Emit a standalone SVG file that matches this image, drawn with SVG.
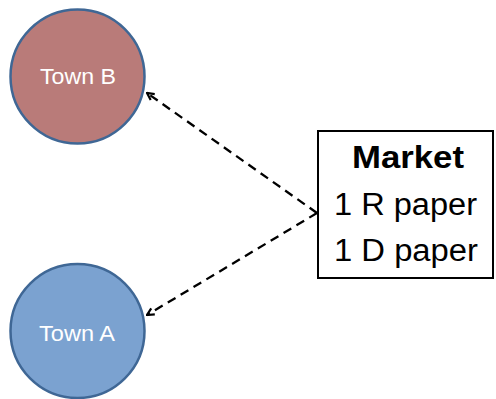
<svg xmlns="http://www.w3.org/2000/svg" width="496" height="399" viewBox="0 0 496 399">
<style>
.town{stroke-width:2.5}
.tlabel{font-family:"Liberation Sans",Arial,sans-serif;font-size:22px;fill:#ffffff;text-anchor:middle}
.mlabel{font-family:"Liberation Sans",Arial,sans-serif;font-size:31px;fill:#000000;text-anchor:middle}
.conn{stroke:#000;stroke-width:2.3;stroke-dasharray:9,6;fill:none}
</style>
<defs>
<marker id="arr" viewBox="0 0 10 10" refX="9" refY="5" markerWidth="10" markerHeight="10" orient="auto" markerUnits="userSpaceOnUse">
<path d="M2,1.5 L9,5 L2,8.5" fill="none" stroke="#000" stroke-width="2.2" stroke-linejoin="miter"/>
</marker>
</defs>
<rect width="496" height="399" fill="#ffffff"/>
<g id="townB">
<circle class="town" cx="77.5" cy="76.5" r="67" fill="#B97B79" stroke="#3F6795"/>
<text class="tlabel" x="78" y="83.5" textLength="76" lengthAdjust="spacingAndGlyphs">Town B</text>
</g>
<g id="townA">
<circle class="town" cx="77.5" cy="331" r="67" fill="#7BA2D0" stroke="#3F6795"/>
<text class="tlabel" x="77" y="341" textLength="76" lengthAdjust="spacingAndGlyphs">Town A</text>
</g>
<g id="market">
<rect x="318" y="131" width="175" height="147" fill="#ffffff" stroke="#000" stroke-width="2"/>
<text class="mlabel" x="408" y="168" font-weight="bold" textLength="112" lengthAdjust="spacingAndGlyphs">Market</text>
<text class="mlabel" x="405.5" y="215" textLength="143" lengthAdjust="spacingAndGlyphs">1 R paper</text>
<text class="mlabel" x="406" y="261" textLength="144" lengthAdjust="spacingAndGlyphs">1 D paper</text>
</g>
<g id="connectors">
<path class="conn" d="M317,213 L147,93" marker-end="url(#arr)"/>
<path class="conn" d="M317,213 L147,315" marker-end="url(#arr)"/>
</g>
</svg>
